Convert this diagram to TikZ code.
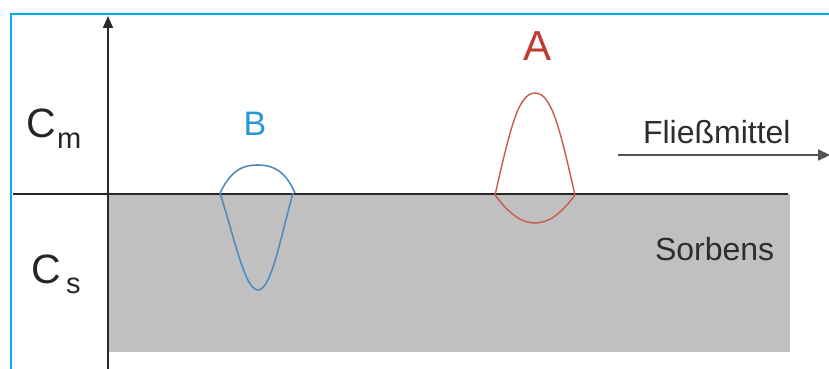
\documentclass[tikz,border=0pt]{standalone}
\usepackage{fontspec}
\setmainfont{Liberation Sans}
\usetikzlibrary{arrows.meta}
\definecolor{framecyan}{RGB}{0,176,240}
\definecolor{sorbgrey}{RGB}{192,192,192}
\definecolor{axisgrey}{RGB}{40,40,40}
\definecolor{txtgrey}{RGB}{45,45,45}
\definecolor{bluecurve}{RGB}{80,140,190}
\definecolor{redcurve}{RGB}{200,90,75}
\definecolor{bluelabel}{RGB}{40,150,210}
\definecolor{redlabel}{RGB}{190,60,50}
\tikzset{
  lbl/.style={inner sep=0pt, outer sep=0pt, text=txtgrey},
  axisline/.style={draw=axisgrey, line width=1.5pt},
  curveB/.style={draw=bluecurve, line width=1.6pt},
  curveA/.style={draw=redcurve, line width=1.4pt},
}
\begin{document}
\begin{tikzpicture}[x=1pt,y=-1pt]
\useasboundingbox (0,0) rectangle (829,369);
% frame
\draw[framecyan, line width=2.8pt] (11,380) -- (11,14) -- (840,14);
% sorbent
\fill[sorbgrey] (108,194) rectangle (790,352);
% axes
\coordinate (hl) at (13,194);
\coordinate (hr) at (788,194);
\coordinate (vb) at (108,380);
\coordinate (vt) at (108,16);
\draw[axisline] (hl) -- (hr);
\draw[axisline, -{Triangle[width=10pt,length=12pt]}] (vb) -- (vt);
% flow arrow
\coordinate (fa) at (618,155);
\coordinate (fb) at (830,155);
\draw[draw=axisgrey!80, line width=2.2pt, -{Triangle[width=11pt,length=12pt]}] (fa) -- (fb);
% curves B
\draw[curveB] (220,193) .. controls (232,168) and (245,165) .. (258,165)
   .. controls (272,165) and (285,170) .. (295,193);
\draw[curveB] (220,193) .. controls (235,240) and (245,290) .. (258,290)
   .. controls (271,290) and (280,240) .. (293,193);
% curves A
\draw[curveA] (495,195) .. controls (510,130) and (518,93) .. (535,93)
   .. controls (552,93) and (560,130) .. (575,195);
\draw[curveA] (495,195) .. controls (510,215) and (522,223) .. (535,223)
   .. controls (548,223) and (560,215) .. (575,195);
% labels
\node[lbl, anchor=base west, text=black!85] (cmC) at (27,137) {\fontsize{41}{41}\selectfont C};
\node[lbl, anchor=base west, text=black!85] (cmm) at (57,148) {\fontsize{29}{29}\selectfont m};
\node[lbl, anchor=base west, text=black!85] (csC) at (31,283) {\fontsize{41}{41}\selectfont C};
\node[lbl, anchor=base west, text=black!85] (css) at (66,293) {\fontsize{29}{29}\selectfont s};
\node[lbl, anchor=base, text=bluelabel] (lB) at (255,135) {\fontsize{34}{34}\selectfont B};
\node[lbl, anchor=base, text=redlabel] (lA) at (537,60) {\fontsize{42}{42}\selectfont A};
\node[lbl, anchor=base west] (flm) at (643,143) {\fontsize{32}{32}\selectfont Fließmittel};
\node[lbl, anchor=base west] (sorb) at (655,260) {\fontsize{32}{32}\selectfont Sorbens};
\end{tikzpicture}
\end{document}
